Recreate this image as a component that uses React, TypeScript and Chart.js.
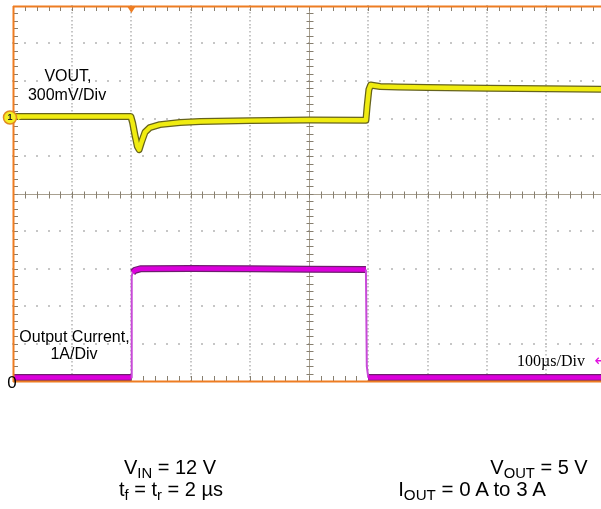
import React, { useEffect, useRef } from "react";
import { Chart, registerables } from "chart.js";

Chart.register(...registerables);

// ---- data (time in µs, 100 µs/div) ----
const vOutTime = [0, 100, 199, 202, 206, 210, 213, 217, 223, 231, 248, 282, 316, 400, 500, 596, 598, 601, 604, 609, 620, 650, 700, 800, 900, 993];
// VOUT deviation from the channel-1 reference, mV (300 mV/div)
const vOutMilliVolts = [0, 0, 0, -50, -150, -240, -265, -205, -125, -89, -65, -48, -40, -33, -28, -30, 80, 215, 252, 248, 240, 236, 232, 226, 222, 218];

const currentTime = [0, 100, 199.5, 200.5, 202, 206, 215, 300, 400, 500, 596, 597.5, 600, 700, 800, 900, 993];
// Output current, A (1 A/div)
const currentAmps = [0, 0, 0, 2.7, 2.8, 2.86, 2.9, 2.91, 2.9, 2.89, 2.88, 0.3, 0, 0, 0, 0, 0];

const triggerTime = 200;
const usPerDiv = 100;
const xDivisions = 10;
const yDivisions = 10;

const SANS = '"Liberation Sans", Arial, Helvetica, sans-serif';
const SERIF = '"Liberation Serif", "Times New Roman", serif';

const ORANGE = "#ee7d22";

const scopePlugin = {
  id: "scope",
  beforeDatasetsDraw(chart: any) {
    const { ctx, chartArea: a, scales } = chart;
    const x = scales.x;
    const g = scales.grid;
    ctx.save();
    // dotted grid
    ctx.fillStyle = "#c6c6c6";
    for (let j = 1; j < yDivisions; j++) {
      if (j === yDivisions / 2) continue;
      const py = Math.round(g.getPixelForValue(j));
      for (let k = 0; k <= xDivisions * 5; k++) {
        const px = Math.round(x.getPixelForValue((k * usPerDiv) / 5));
        ctx.fillRect(px - 1, py - 1, 2, 2);
      }
    }
    for (let i = 1; i < xDivisions; i++) {
      if (i === xDivisions / 2) continue;
      const px = Math.round(x.getPixelForValue(i * usPerDiv));
      for (let k = 0; k <= yDivisions * 10; k++) {
        const py = Math.round(g.getPixelForValue(k / 10));
        ctx.fillRect(px - 1, py - 1, 2, 1.5);
      }
    }
    // center cross
    const cy = Math.round(g.getPixelForValue(yDivisions / 2)) + 0.5;
    const cx = Math.round(x.getPixelForValue((xDivisions / 2) * usPerDiv)) + 0.5;
    ctx.strokeStyle = "#a8a090";
    ctx.lineWidth = 1;
    ctx.beginPath();
    ctx.moveTo(a.left, cy);
    ctx.lineTo(a.right, cy);
    ctx.moveTo(cx, a.top);
    ctx.lineTo(cx, a.bottom);
    ctx.stroke();
    // ticks
    ctx.strokeStyle = "#877f70";
    ctx.beginPath();
    for (let k = 0; k <= xDivisions * 5; k++) {
      const px = Math.round(x.getPixelForValue((k * usPerDiv) / 5)) + 0.5;
      ctx.moveTo(px, cy - 3);
      ctx.lineTo(px, cy + 4);
      ctx.moveTo(px, a.top);
      ctx.lineTo(px, a.top + 5);
      ctx.moveTo(px, a.bottom - 5);
      ctx.lineTo(px, a.bottom);
    }
    for (let k = 0; k <= yDivisions * 5; k++) {
      const py = Math.round(g.getPixelForValue(k / 5)) + 0.5;
      ctx.moveTo(cx - 3, py);
      ctx.lineTo(cx + 4, py);
      ctx.moveTo(a.left, py);
      ctx.lineTo(a.left + 5, py);
    }
    ctx.stroke();
    ctx.restore();
  },
  afterDatasetsDraw(chart: any) {
    const { ctx, chartArea: a, scales } = chart;
    const x = scales.x;
    ctx.save();
    ctx.strokeStyle = ORANGE;
    ctx.lineWidth = 2;
    ctx.beginPath();
    ctx.moveTo(a.left + 0.5, a.top);
    ctx.lineTo(a.left + 0.5, a.bottom + 1);
    ctx.moveTo(a.left, a.top + 0.5);
    ctx.lineTo(a.right, a.top + 0.5);
    ctx.moveTo(a.left, a.bottom + 0.5);
    ctx.lineTo(a.right, a.bottom + 0.5);
    ctx.stroke();
    // trigger marker
    const tx = x.getPixelForValue(triggerTime);
    ctx.fillStyle = ORANGE;
    ctx.beginPath();
    ctx.moveTo(tx - 4.5, a.top);
    ctx.lineTo(tx + 4.5, a.top);
    ctx.lineTo(tx, a.top + 7);
    ctx.closePath();
    ctx.fill();
    // channel 1 reference marker
    const ry = scales.yV.getPixelForValue(0) + 1;
    ctx.fillStyle = "#f2ec1c";
    ctx.beginPath();
    ctx.moveTo(a.left + 5, ry - 3);
    ctx.lineTo(a.left + 9, ry);
    ctx.lineTo(a.left + 5, ry + 3);
    ctx.closePath();
    ctx.fill();
    ctx.beginPath();
    ctx.arc(a.left - 3, ry, 6.5, 0, Math.PI * 2);
    ctx.fillStyle = "#f4ee22";
    ctx.fill();
    ctx.lineWidth = 1.5;
    ctx.strokeStyle = "#e08a20";
    ctx.stroke();
    ctx.fillStyle = "#222";
    ctx.font = `bold 9px ${SANS}`;
    ctx.textAlign = "center";
    ctx.textBaseline = "middle";
    ctx.fillText("1", a.left - 3, ry + 0.5);
    ctx.restore();
  },
};

type LabelProps = {
  x: number;
  y: number;
  size?: number;
  family?: string;
  color?: string;
  children: React.ReactNode;
};

function Label({ x, y, size = 16, family = SANS, color = "#000", children }: LabelProps) {
  return (
    <div
      style={{
        position: "absolute",
        left: x,
        top: y - 0.85 * size,
        transform: "translateX(-50%)",
        fontSize: size,
        lineHeight: `${size}px`,
        fontFamily: family,
        color,
        whiteSpace: "nowrap",
      }}
    >
      {children}
    </div>
  );
}

const Sub = ({ children }: { children: React.ReactNode }) => (
  <span style={{ fontSize: "0.74em", verticalAlign: "-0.28em", lineHeight: 1 }}>{children}</span>
);

export default function App() {
  const canvasRef = useRef<HTMLCanvasElement | null>(null);

  useEffect(() => {
    if (!canvasRef.current) return;
    const steep = (c: any) => Math.abs(c.p1.x - c.p0.x) < 2;
    const vData = vOutTime.map((t, i) => ({ x: t, y: vOutMilliVolts[i] }));
    const iData = currentTime.map((t, i) => ({ x: t, y: currentAmps[i] }));
    const chart = new Chart(canvasRef.current, {
      type: "line",
      data: {
        datasets: [
          {
            data: vData,
            yAxisID: "yV",
            order: 2,
            borderColor: "#66631c",
            borderWidth: 7,
            pointRadius: 0,
            borderJoinStyle: "round",
          },
          {
            data: vData,
            yAxisID: "yV",
            order: 1,
            borderColor: "#f0ec10",
            borderWidth: 4.5,
            pointRadius: 0,
            borderJoinStyle: "round",
          },
          {
            data: iData,
            yAxisID: "yI",
            order: 2,
            borderColor: "#6e1e6e",
            borderWidth: 7,
            pointRadius: 0,
            borderJoinStyle: "round",
            segment: {
              borderColor: (c: any) => (steep(c) ? "rgba(0,0,0,0)" : "#6e1e6e"),
            },
          },
          {
            data: iData,
            yAxisID: "yI",
            order: 1,
            borderColor: "#dc00dc",
            borderWidth: 4.5,
            pointRadius: 0,
            borderJoinStyle: "round",
            segment: {
              borderColor: (c: any) => (steep(c) ? "#c84ad8" : "#dc00dc"),
              borderWidth: (c: any) => (steep(c) ? 2 : 4.5),
            },
          },
        ],
      },
      options: {
        responsive: false,
        maintainAspectRatio: false,
        devicePixelRatio: 1,
        animation: false,
        events: [],
        layout: { padding: { left: 13, top: 6, right: 0, bottom: 128 } },
        plugins: { legend: { display: false }, tooltip: { enabled: false } },
        scales: {
          x: { type: "linear", axis: "x", position: "bottom", min: 0, max: 993, display: false },
          grid: { type: "linear", axis: "y", position: "left", min: 0, max: yDivisions, display: false },
          yI: { type: "linear", axis: "y", position: "left", min: -0.093, max: 9.907, display: false },
          yV: { type: "linear", axis: "y", position: "left", min: -2116, max: 884, display: false },
        },
      },
      plugins: [scopePlugin],
    } as any);
    return () => chart.destroy();
  }, []);

  return (
    <div style={{ position: "fixed", left: 0, top: 0, width: 601, height: 509, background: "#fff", overflow: "hidden" }}>
      <canvas ref={canvasRef} width={601} height={509} style={{ display: "block" }} />
      <Label x={68} y={82}>VOUT,</Label>
      <Label x={67} y={101}>300mV/Div</Label>
      <Label x={74.5} y={343}>Output Current,</Label>
      <Label x={74} y={360}>1A/Div</Label>
      <Label x={12} y={388} size={17}>0</Label>
      <Label x={551} y={367} family={SERIF}>100µs/Div</Label>
      <Label x={601} y={367} size={16} family={'"DejaVu Sans", sans-serif'} color="#e010e0">←</Label>
      <Label x={170} y={474} size={20}>V<Sub>IN</Sub> = 12 V</Label>
      <Label x={171} y={496} size={20}>t<Sub>f</Sub> = t<Sub>r</Sub> = 2 µs</Label>
      <Label x={539} y={474} size={20}>V<Sub>OUT</Sub> = 5 V</Label>
      <Label x={472} y={496} size={20.5}>I<Sub>OUT</Sub> = 0 A to 3 A</Label>
    </div>
  );
}
